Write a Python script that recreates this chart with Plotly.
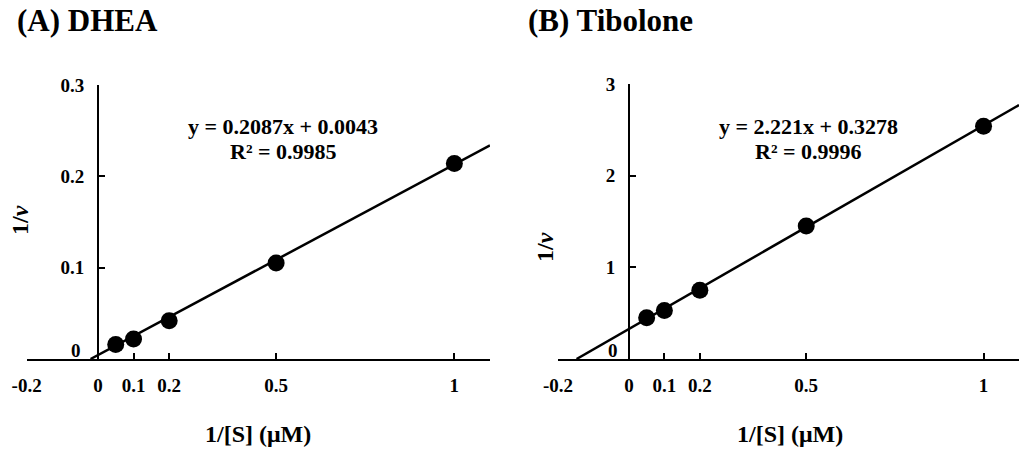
import plotly.graph_objects as go

# ---- data ----
x_a = [0.05, 0.1, 0.2, 0.5, 1.0]
y_a = [0.016, 0.022, 0.042, 0.105, 0.214]
x_b = [0.05, 0.1, 0.2, 0.5, 1.0]
y_b = [0.45, 0.53, 0.75, 1.45, 2.54]
slope_a, intercept_a, r2_a = 0.2087, 0.0043, 0.9985
slope_b, intercept_b, r2_b = 2.221, 0.3278, 0.9996
x_tickvals = [-0.2, 0, 0.1, 0.2, 0.5, 1, 1.1]
x_ticktext = ["-0.2", "0", "0.1", "0.2", "0.5", "1", ""]
y_ticks_a = [0.1, 0.2, 0.3]
y_ticks_b = [1, 2, 3]
titles = ["(A) DHEA", "(B) Tibolone"]
x_title = "1/[S] (μM)"
y_title = "1/<i>v</i>"
eq_a = ["y = 0.2087x + 0.0043", "R² = 0.9985"]
eq_b = ["y = 2.221x + 0.3278", "R² = 0.9996"]

W, H = 1019, 450
FONT = "Liberation Serif, Times New Roman, serif"
xr = [-0.2, 1.1]

dom_a = [26.6 / W, 490 / W]
dom_b = [558 / W, 1.0]
ydom_a = [1 - 359 / H, 1 - 85 / H]
ydom_b = [1 - 359 / H, 1 - 84 / H]


def ypos(dom):
    return dom[0] + (0 - xr[0]) / (xr[1] - xr[0]) * (dom[1] - dom[0])


fig = go.Figure()


def add_panel(xs, ys, slope, intercept, xa, ya):
    x0 = -intercept / slope
    x1 = xr[1]
    fig.add_trace(go.Scatter(x=[x0, x1], y=[slope * x0 + intercept, slope * x1 + intercept],
                             mode="lines", line=dict(color="black", width=2.5),
                             xaxis=xa, yaxis=ya, showlegend=False, hoverinfo="skip",
                             cliponaxis=False))
    fig.add_trace(go.Scatter(x=xs, y=ys, mode="markers",
                             marker=dict(color="black", size=17),
                             xaxis=xa, yaxis=ya, showlegend=False, cliponaxis=False))


add_panel(x_a, y_a, slope_a, intercept_a, "x", "y")
add_panel(x_b, y_b, slope_b, intercept_b, "x2", "y2")

TICKSIZE = 19
xcommon = dict(range=xr, tickvals=x_tickvals, ticktext=x_ticktext, showline=True,
               linecolor="black", linewidth=2, ticks="inside", ticklen=6, tickwidth=1.5,
               tickcolor="black", showgrid=False, zeroline=False, ticklabelstandoff=8,
               automargin=False,
               tickfont=dict(size=TICKSIZE, color="black", family=FONT, weight="bold"))
ycommon = dict(showline=True, linecolor="black", linewidth=1.5, ticks="inside", ticklen=6,
               tickwidth=1.5, tickcolor="black", showgrid=False, zeroline=False,
               ticklabelstandoff=9, anchor="free", automargin=False,
               tickfont=dict(size=TICKSIZE, color="black", family=FONT, weight="bold"))

fig.update_layout(
    width=W, height=H, margin=dict(l=0, r=0, t=0, b=0, pad=0, autoexpand=False),
    paper_bgcolor="white", plot_bgcolor="white",
    font=dict(family=FONT, color="black", weight="bold"),
    xaxis=dict(domain=dom_a, anchor="y", **xcommon),
    yaxis=dict(domain=ydom_a, range=[0, 0.3], tickvals=y_ticks_a, ticktext=["0.1", "0.2", "0.3"],
               position=ypos(dom_a), **ycommon),
    xaxis2=dict(domain=dom_b, anchor="y2", **xcommon),
    yaxis2=dict(domain=ydom_b, range=[0, 3], tickvals=y_ticks_b, ticktext=["1", "2", "3"],
                position=ypos(dom_b), **ycommon),
)


def txt(text, px, py, size, xanchor="center", angle=0):
    return dict(text=text, x=px / W, y=1 - py / H, xref="paper", yref="paper",
                xanchor=xanchor, yanchor="middle", showarrow=False, textangle=angle,
                font=dict(size=size, family=FONT, weight="bold", color="black"))


ann = [
    txt(titles[0], 15, 21, 31, "left"),
    txt(titles[1], 526, 21, 31, "left"),
    txt(eq_a[0], 283, 126, 22),
    txt(eq_a[1], 283, 151, 22),
    txt(eq_b[0], 808, 126, 22),
    txt(eq_b[1], 808, 151, 22),
    txt(x_title, 258, 434, 24),
    txt(x_title, 790, 434, 24),
    txt(y_title, 20, 220, 24, angle=-90),
    txt(y_title, 545, 247, 24, angle=-90),
    # y-axis "0" labels lifted above the x-axis line
    txt("0", 76, 350, TICKSIZE),
    txt("0", 613, 350, TICKSIZE),
]
fig.update_layout(annotations=ann)

fig.write_html("out.html", config={"displayModeBar": False},
               post_script="document.body.style.margin='0';")
